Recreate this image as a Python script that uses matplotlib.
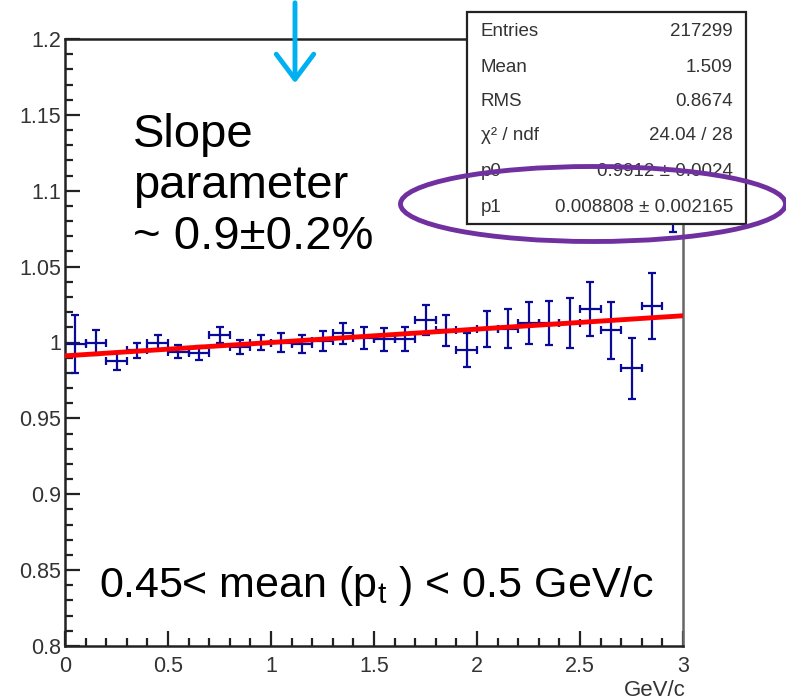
import numpy as np
import matplotlib
matplotlib.use("Agg")
import matplotlib.pyplot as plt
from matplotlib.patches import Ellipse, Rectangle, FancyArrowPatch
from matplotlib.ticker import MultipleLocator, FuncFormatter

plt.rcParams['font.family'] = ['Liberation Sans', 'DejaVu Sans']

# bin centres (GeV/c) and ratio values
bin_x = [0.05, 0.15, 0.25, 0.35, 0.45, 0.55, 0.65, 0.75, 0.85, 0.95,
         1.05, 1.15, 1.25, 1.35, 1.45, 1.55, 1.65, 1.75, 1.85, 1.95,
         2.05, 2.15, 2.25, 2.35, 2.45, 2.55, 2.65, 2.75, 2.85, 2.95]
ratio = [0.999, 1.000, 0.988, 0.995, 1.000, 0.994, 0.993, 1.005, 0.997, 1.000,
         1.000, 0.999, 1.001, 1.006, 1.003, 1.002, 1.0025, 1.015, 1.008, 0.995,
         1.009, 1.009, 1.013, 1.013, 1.013, 1.022, 1.008, 0.983, 1.024, 1.100]
ratio_err = [0.019, 0.0083, 0.006, 0.005, 0.005, 0.0045, 0.0045, 0.005, 0.0047, 0.005,
             0.006, 0.006, 0.0065, 0.007, 0.0075, 0.0077, 0.008, 0.010, 0.010, 0.011,
             0.012, 0.0128, 0.0138, 0.0146, 0.0163, 0.0177, 0.019, 0.020, 0.022, 0.027]
half_bin = 0.05

# linear fit p0 + p1*x
p0 = 0.9912
p1 = 0.008808
fit_x = [0.0, 3.0]

stats_names = ['Entries', 'Mean', 'RMS', 'χ² / ndf', 'p0', 'p1']
stats_vals = ['217299', '1.509', '0.8674', '24.04 / 28',
              '0.9912 ± 0.0024', '0.008808 ± 0.002165']

W, H = 786, 700
fig = plt.figure(figsize=(W / 100, H / 100), dpi=100)
ax = fig.add_axes([65 / W, 1 - 646 / H, (683 - 65) / W, (646 - 39) / H])

ax.errorbar(bin_x, ratio, yerr=ratio_err, xerr=half_bin, fmt='none',
            ecolor='#0a0a9a', elinewidth=1.6, capsize=3, capthick=1.6, zorder=2)
fx = np.array(fit_x)
ax.plot(fx, p0 + p1 * fx, color='#ff0000', lw=3.5, zorder=3)

ax.set_xlim(0, 3)
ax.set_ylim(0.8, 1.2)
ax.xaxis.set_major_locator(MultipleLocator(0.5))
ax.xaxis.set_minor_locator(MultipleLocator(0.1))
ax.yaxis.set_major_locator(MultipleLocator(0.05))
ax.yaxis.set_minor_locator(MultipleLocator(0.01))
fmt = FuncFormatter(lambda v, p: '%g' % round(v, 3))
ax.xaxis.set_major_formatter(fmt)
ax.yaxis.set_major_formatter(fmt)
ax.tick_params(which='both', direction='in', color='#222222', width=1.6,
               labelsize=15.5, labelcolor='#333333', top=False, right=False)
ax.tick_params(which='major', length=11)
ax.tick_params(which='minor', length=6)
ax.tick_params(axis='y', pad=3)
ax.tick_params(axis='x', pad=7)
for s in ax.spines.values():
    s.set_linewidth(1.8)
    s.set_color('#222222')
ax.spines['right'].set_color('#666666')

ax.set_xlabel('GeV/c', fontsize=16, color='#333333')
ax.xaxis.set_label_coords(686 / W, 1 - 690 / H, transform=fig.transFigure)
ax.xaxis.label.set_ha('right')
ax.xaxis.label.set_va('center')

# annotation text
fig.text(133 / W, 1 - 113 / H, 'Slope\nparameter\n~ 0.9±0.2%', fontsize=34,
         va='top', ha='left', linespacing=1.21, color='black')
fig.text(99 / W, 1 - 597 / H, '0.45< mean (p$_\\mathregular{t}$ ) < 0.5 GeV/c',
         fontsize=31, va='baseline', ha='left', color='black')

# statistics box
bx0, by0, bx1, by1 = 467, 12, 746, 224
fig.patches.append(Rectangle((bx0 / W, 1 - by1 / H), (bx1 - bx0) / W, (by1 - by0) / H,
                             transform=fig.transFigure, facecolor='white',
                             edgecolor='#222222', lw=1.6, zorder=5))
row_y = [31, 67, 101, 136, 171, 208]
for name, val, ry in zip(stats_names, stats_vals, row_y):
    fig.text(481 / W, 1 - ry / H, name, fontsize=13.5, color='#333333',
             va='center', ha='left', zorder=6)
    fig.text(733 / W, 1 - ry / H, val, fontsize=13.5, color='#333333',
             va='center', ha='right', zorder=6)

# purple ellipse around p1
fig.patches.append(Ellipse((593 / W, 1 - 204 / H), 385 / W, 75 / H,
                           transform=fig.transFigure, fill=False,
                           edgecolor='#7030a0', lw=3.5, zorder=7))

# cyan arrow from the top
fig.patches.append(FancyArrowPatch(
    (295 / W, 1.0), (295 / W, 1 - 86 / H), transform=fig.transFigure,
    arrowstyle='->,head_length=0.6,head_width=0.45', mutation_scale=30,
    color='#00b0f0', lw=3.5, zorder=8))

fig.savefig('out.png', dpi=100)
